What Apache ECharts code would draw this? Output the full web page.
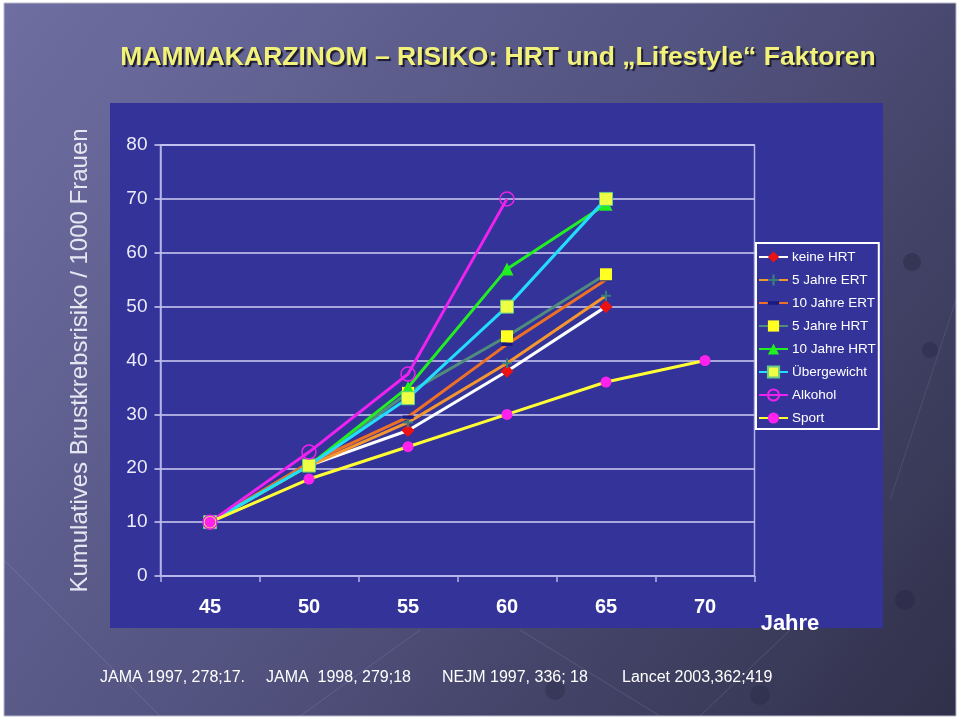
<!DOCTYPE html>
<html>
<head>
<meta charset="utf-8">
<script src="https://cdn.jsdelivr.net/npm/echarts@6/dist/echarts.min.js"></script>
<style>
html,body{margin:0;padding:0;background:#ffffff;}
#chart{width:960px;height:720px;}
</style>
</head>
<body>
<div id="chart"></div>
<script>
// ---- data ----
const years = ['45', '50', '55', '60', '65', '70'];
const yTicks = [0, 10, 20, 30, 40, 50, 60, 70, 80];
const seriesNames = ['keine HRT', '5 Jahre ERT', '10 Jahre ERT', '5 Jahre HRT', '10 Jahre HRT', 'Übergewicht', 'Alkohol', 'Sport'];
const keineHRT    = [10, 20.5, 27,   38,   50,   null];
const ert5        = [10, 20.5, 28.5, 39.5, 52,   null];
const ert10       = [10, 21,   29.5, 43,   55,   null];
const hrt5        = [10, 20.5, 34,   44.5, 56,   null];
const hrt10       = [10, 20.5, 35,   57,   69,   null];
const uebergewicht= [10, 20.5, 33,   50,   70,   null];
const alkohol     = [10, 23,   37.5, 70,   null, null];
const sport       = [10, 18,   24,   30,   36,   40];
const titleText = 'MAMMAKARZINOM – RISIKO: HRT und „Lifestyle“ Faktoren';
const yAxisTitle = 'Kumulatives Brustkrebsrisiko / 1000 Frauen';
const xAxisTitle = 'Jahre';
const refs = ['JAMA 1997, 278;17.', 'JAMA  1998, 279;18', 'NEJM 1997, 336; 18', 'Lancet 2003,362;419'];

const chart = echarts.init(document.getElementById('chart'), null, {renderer: 'canvas'});
const FONT = '"Liberation Sans", Arial, sans-serif';
const axisCol = '#b4b4ea';

function mk(name, data, lineColor, symbol, symColor, symSize, extra) {
  return {
    name: name, type: 'line', data: data,
    symbol: symbol, symbolSize: symSize,
    lineStyle: {color: lineColor, width: 3},
    itemStyle: Object.assign({color: symColor}, extra || {}),
    connectNulls: false, animation: false,
    emphasis: {disabled: true}
  };
}
const plusPath = 'path://M4,0h2v4h4v2h-4v4h-2v-4h-4v-2h4z';
const dashPath = 'path://M0,0L0.01,0L0,0.01Z M0,3.5h10v3h-10z M10,10L9.99,10L10,9.99Z';

const refX = [100, 266, 442, 622];
const graphics = [
  {type: 'rect', z: -20, shape: {x: 4, y: 3, width: 952, height: 713},
   style: {fill: new echarts.graphic.LinearGradient(0, 0, 1, 1, [
     {offset: 0, color: '#6e6ea2'}, {offset: 0.5, color: '#52527f'}, {offset: 1, color: '#30304a'}]),
     stroke: '#b8b8c8', lineWidth: 1}},
  {type: 'line', z: -19, shape: {x1: 4, y1: 560, x2: 160, y2: 716}, style: {stroke: 'rgba(200,200,230,0.15)', lineWidth: 1}},
  {type: 'line', z: -19, shape: {x1: 300, y1: 716, x2: 420, y2: 630}, style: {stroke: 'rgba(200,200,230,0.15)', lineWidth: 1}},
  {type: 'line', z: -19, shape: {x1: 520, y1: 630, x2: 660, y2: 716}, style: {stroke: 'rgba(200,200,230,0.15)', lineWidth: 1}},
  {type: 'line', z: -19, shape: {x1: 700, y1: 716, x2: 790, y2: 630}, style: {stroke: 'rgba(200,200,230,0.15)', lineWidth: 1}},
  {type: 'line', z: -19, shape: {x1: 956, y1: 300, x2: 890, y2: 500}, style: {stroke: 'rgba(200,200,230,0.12)', lineWidth: 1}},
  {type: 'circle', z: -19, shape: {cx: 912, cy: 262, r: 9}, style: {fill: 'rgba(40,40,70,0.5)'}},
  {type: 'circle', z: -19, shape: {cx: 930, cy: 350, r: 8}, style: {fill: 'rgba(40,40,70,0.45)'}},
  {type: 'circle', z: -19, shape: {cx: 905, cy: 600, r: 10}, style: {fill: 'rgba(40,40,70,0.5)'}},
  {type: 'circle', z: -19, shape: {cx: 555, cy: 690, r: 10}, style: {fill: 'rgba(40,40,70,0.4)'}},
  {type: 'circle', z: -19, shape: {cx: 760, cy: 695, r: 10}, style: {fill: 'rgba(40,40,70,0.4)'}},
  {type: 'rect', z: -18, shape: {x: 110, y: 103, width: 773, height: 525}, style: {fill: '#333399'}},
  {type: 'text', z: 10, x: 498, y: 58,
   style: {text: titleText, font: 'bold 26.5px ' + FONT, fill: '#f2f27a', align: 'center', verticalAlign: 'middle',
     textShadowColor: '#1a1a30', textShadowOffsetX: 2, textShadowOffsetY: 2, textShadowBlur: 1}},
  {type: 'text', z: 10, x: 790, y: 624,
   style: {text: xAxisTitle, font: 'bold 22px ' + FONT, fill: '#ffffff', align: 'center', verticalAlign: 'middle'}}
];
refs.forEach((r, i) => graphics.push({type: 'text', z: 10, x: refX[i], y: 678,
  style: {text: r, font: '16px ' + FONT, fill: '#ffffff', align: 'left', verticalAlign: 'middle'}}));

const option = {
  animation: false,
  textStyle: {fontFamily: FONT},
  graphic: graphics,
  grid: {left: 160.5, right: 205.5, top: 145, bottom: 144, show: true, borderColor: axisCol, borderWidth: 1.5, backgroundColor: 'transparent'},
  legend: {
    orient: 'vertical', left: 756, top: 243,
    data: seriesNames,
    backgroundColor: '#333399', borderColor: '#ffffff', borderWidth: 2,
    padding: [7, 3, 4, 2], itemGap: 9, itemWidth: 29, itemHeight: 14,
    textStyle: {color: '#ffffff', fontSize: 13.5, fontFamily: FONT, lineHeight: 14, padding: [0, 0, 0, -1]},
    selectedMode: false
  },
  xAxis: {
    type: 'category', data: years, boundaryGap: true,
    axisLine: {lineStyle: {color: axisCol, width: 1.5}},
    axisTick: {show: true, length: 6, lineStyle: {color: axisCol, width: 1.5}},
    axisLabel: {color: '#ffffff', fontSize: 20, fontWeight: 'bold', margin: 21, fontFamily: FONT},
    splitLine: {show: false}
  },
  yAxis: {
    type: 'value', min: 0, max: 80, interval: 10,
    name: yAxisTitle, nameLocation: 'middle', nameRotate: 90, nameGap: 68,
    nameTextStyle: {color: '#e6e6f2', fontSize: 24, fontFamily: FONT},
    axisLine: {show: true, lineStyle: {color: axisCol, width: 1.5}},
    axisTick: {show: true, length: 6, lineStyle: {color: '#d0d0f4', width: 1.5}},
    axisLabel: {color: '#ececf8', fontSize: 19, margin: 13, fontFamily: FONT,
      formatter: v => (yTicks.indexOf(v) >= 0 ? String(v) : '')},
    splitLine: {show: true, lineStyle: {color: '#d0d0f4', width: 1.5}}
  },
  series: [
    mk('keine HRT', keineHRT, '#ffffff', 'diamond', '#ee1111', 13),
    mk('5 Jahre ERT', ert5, '#f5962e', plusPath, '#3a7c7c', 10),
    mk('10 Jahre ERT', ert10, '#ee6f26', dashPath, '#1a1a80', 11),
    mk('5 Jahre HRT', hrt5, '#4f8c7c', 'rect', '#ffff22', 12),
    mk('10 Jahre HRT', hrt10, '#22ee22', 'triangle', '#22ee22', 13),
    mk('Übergewicht', uebergewicht, '#22ddff', 'rect', '#eeff44', 13, {borderColor: '#66cc88', borderWidth: 1}),
    mk('Alkohol', alkohol, '#ee22ee', 'circle', 'rgba(0,0,0,0)', 14, {borderColor: '#ee22ee', borderWidth: 1.5}),
    mk('Sport', sport, '#ffff33', 'circle', '#ff22ee', 11)
  ]
};
chart.setOption(option);
</script>
</body>
</html>
